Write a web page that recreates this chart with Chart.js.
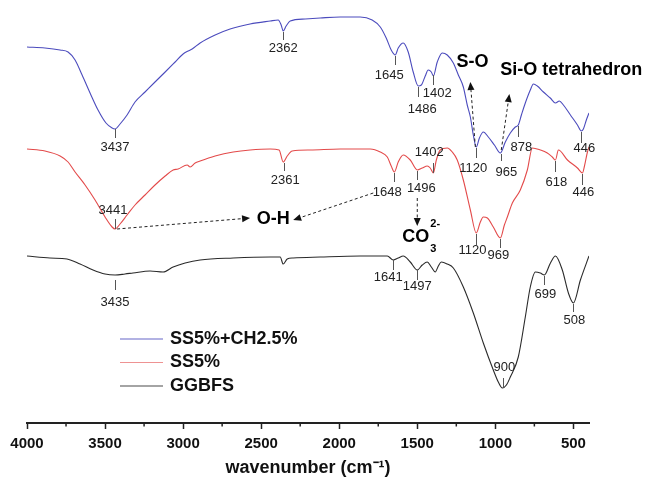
<!DOCTYPE html>
<html><head><meta charset="utf-8">
<script src="https://cdn.jsdelivr.net/npm/chart.js@4.4.1/dist/chart.umd.min.js"></script>
<style>html,body{margin:0;padding:0;background:#fff;}#wrap{width:645px;height:485px;}</style>
</head><body><div id="wrap"><canvas id="c" width="645" height="485"></canvas></div>
<script>
// ---- data (wavenumber in cm-1, transmittance in arbitrary units, curves offset) ----
const seriesNames = ['SS5%+CH2.5%', 'SS5%', 'GGBFS'];
const majorTicks = [4000, 3500, 3000, 2500, 2000, 1500, 1000, 500];
const minorTicks = [3750, 3250, 2750, 2250, 1750, 1250, 750];

const blueWn = [4000,3885,3788,3737,3692,3647,3596,3545,3494,3455,3436,3404,3359,3308,3244,3180,3115,3051,3000,2968,2942,2891,2795,2699,2571,2442,2391,2372,2359,2340,2314,2218,2122,1994,1866,1789,1737,1699,1667,1641,1622,1590,1558,1526,1494,1474,1449,1430,1410,1397,1372,1340,1308,1269,1237,1205,1180,1160,1141,1122,1102,1077,1045,1006,968,936,904,872,853,833,808,776,756,731,692,648,615,590,564,519,474,449,436,417,400];
const blueT  = [376,375,373,371,363,348,330,313,300,295,294,299,308,321,331,341,351,361,369,372,374,380,388,394,399,402,403,398,392,397,402,404,405,406,406,403,396,385,373,368,375,380,371,351,337,338,347,353,351,347,361,370,368,360,348,336,318,306,288,276,285,291,286,278,270,281,290,296,298,308,320,333,339,337,331,325,320,322,318,308,298,292,294,303,310];

const redWn = [4000,3885,3788,3737,3692,3628,3564,3500,3455,3436,3404,3359,3308,3244,3180,3115,3064,3032,2974,2955,2923,2891,2795,2679,2571,2442,2385,2359,2333,2301,2186,1994,1801,1737,1692,1667,1647,1622,1590,1545,1500,1468,1436,1417,1397,1378,1353,1308,1276,1244,1205,1160,1122,1096,1077,1051,1013,968,942,923,891,840,795,763,712,667,635,615,596,538,474,442,429,410,400];
const redT  = [274,272,267,261,251,238,223,206,196,194,199,208,218,228,238,247,253,254,258,256,260,262,267,271,273,274,273,261,267,272,273,274,274,271,266,257,251,261,268,263,253,255,257,255,250,263,273,275,271,263,243,213,190,201,206,205,196,185,198,206,220,233,253,275,273,270,266,263,273,263,255,250,257,271,276];

const blackWn = [4000,3853,3744,3660,3577,3500,3436,3372,3321,3212,3128,3064,2987,2891,2679,2442,2378,2359,2333,2295,2122,1866,1692,1654,1622,1590,1545,1500,1468,1436,1410,1385,1365,1346,1308,1269,1205,1141,1077,1013,981,955,929,904,853,808,776,744,712,686,647,615,571,532,500,455,400];
const blackT  = [167,165,164,159,153,149,148,149,150,152,151,156,160,163,165,166,166,159,164,165,166,167,167,163,165,167,161,153,158,161,156,151,157,161,159,155,136,110,80,53,41,35,38,46,66,106,136,151,150,148,160,167,153,130,120,143,167];

// peak annotations: [text, tick wavenumber, tick y from, tick y to, label wavenumber, label y]
const peakLabels = [
  ['3437',3436,294,285,3436,276], ['2362',2359,391,383,2359,375], ['1645',1640,367,358,1679,348],
  ['1486',1494,336,326,1468,314], ['1402',1397,348,338,1372,330], ['1120',1122,275,265,1141,255],
  ['965',962,269,262,929,251], ['878',853,297,286,833,276], ['446',449,291,280,430,275],
  ['3441',3436,194,204,3449,213], ['2361',2353,260,252,2346,243], ['1648',1647,250,241,1692,231],
  ['1496',1500,252,243,1474,235], ['1402',1397,250,260,1423,271], ['1120',1122,189,178,1147,173],
  ['969',968,184,175,981,168], ['618',615,262,251,609,241], ['446',442,249,238,436,231],
  ['3435',3436,143,133,3436,121], ['1641',1654,163,153,1686,146], ['1497',1500,153,143,1500,137],
  ['900',949,35,45,942,56], ['699',686,147,138,679,129], ['508',500,119,111,494,103]
];
// group labels: [text, wavenumber, y, align]
const groupLabels = [['S-O',1147,361,'center'], ['Si-O tetrahedron',968,353,'left'], ['O-H',2423,204,'center']];
const carbonate = {wn:1596, y:186};
// dashed arrows: [from wn, from y, to wn, to y]
const arrows = [[3423,194,2571,205],[1782,230,2295,203],[1500,225,1500,197],[1128,276,1160,341],[962,273,910,329]];

const FONT = '"Liberation Sans", Arial, Helvetica, sans-serif';
const colors = ['#4b4bbd', '#e34a4a', '#2a2a2a'];

const annot = {
  id: 'annot',
  afterDatasetsDraw(chart) {
    const ctx = chart.ctx, xs = chart.scales.x, ys = chart.scales.y, ca = chart.chartArea;
    const X = v => xs.getPixelForValue(v), Y = v => ys.getPixelForValue(v);
    ctx.save();
    // minor ticks
    ctx.strokeStyle = '#222'; ctx.lineWidth = 1.5;
    minorTicks.forEach(v => { ctx.beginPath(); ctx.moveTo(X(v), ca.bottom); ctx.lineTo(X(v), ca.bottom + 3.5); ctx.stroke(); });
    // peak ticks and labels
    ctx.font = '13px ' + FONT; ctx.textAlign = 'center'; ctx.textBaseline = 'middle';
    peakLabels.forEach(p => {
      ctx.strokeStyle = '#555'; ctx.lineWidth = 1;
      ctx.beginPath(); ctx.moveTo(Math.round(X(p[1])) + 0.5, Y(p[2])); ctx.lineTo(Math.round(X(p[1])) + 0.5, Y(p[3])); ctx.stroke();
      ctx.fillStyle = '#222'; ctx.fillText(p[0], X(p[4]), Y(p[5]));
    });
    // dashed arrows
    arrows.forEach(a => {
      const x1 = X(a[0]), y1 = Y(a[1]), x2 = X(a[2]), y2 = Y(a[3]);
      const ang = Math.atan2(y2 - y1, x2 - x1), L = 8, W = 3.5;
      const bx = x2 - L * Math.cos(ang), by = y2 - L * Math.sin(ang);
      ctx.strokeStyle = '#222'; ctx.lineWidth = 1; ctx.setLineDash([3, 2.5]);
      ctx.beginPath(); ctx.moveTo(x1, y1); ctx.lineTo(bx, by); ctx.stroke();
      ctx.setLineDash([]); ctx.fillStyle = '#111';
      ctx.beginPath(); ctx.moveTo(x2, y2);
      ctx.lineTo(bx + W * Math.sin(ang), by - W * Math.cos(ang));
      ctx.lineTo(bx - W * Math.sin(ang), by + W * Math.cos(ang));
      ctx.closePath(); ctx.fill();
    });
    // group labels
    ctx.font = 'bold 18px ' + FONT; ctx.fillStyle = '#000';
    groupLabels.forEach(g => { ctx.textAlign = g[3]; ctx.fillText(g[0], X(g[1]), Y(g[2])); });
    ctx.textAlign = 'left';
    const cx = X(carbonate.wn), cy = Y(carbonate.y);
    ctx.fillText('CO', cx, cy);
    const w = ctx.measureText('CO').width;
    ctx.font = 'bold 11px ' + FONT;
    ctx.fillText('2-', cx + w + 1, cy - 13);
    ctx.fillText('3', cx + w + 1, cy + 12);
    // legend
    const lx = ca.left + 93, ly = 339, dy = 23.5;
    chart.data.datasets.forEach((ds, i) => {
      const yy = ly + i * dy;
      ctx.strokeStyle = ds.borderColor; ctx.lineWidth = 1.2; ctx.globalAlpha = i === 1 ? 0.6 : 0.85;
      ctx.beginPath(); ctx.moveTo(lx, yy); ctx.lineTo(lx + 43, yy); ctx.stroke();
      ctx.globalAlpha = 1;
      ctx.font = 'bold 18px ' + FONT; ctx.fillStyle = '#111'; ctx.textBaseline = 'middle';
      ctx.fillText(ds.label, lx + 50, yy);
    });
    ctx.restore();
  }
};

const mk = (xs, ys) => xs.map((x, i) => ({x: x, y: ys[i]}));
new Chart(document.getElementById('c'), {
  type: 'line',
  data: { datasets: [
    {label: seriesNames[0], data: mk(blueWn, blueT), borderColor: colors[0]},
    {label: seriesNames[1], data: mk(redWn, redT), borderColor: colors[1]},
    {label: seriesNames[2], data: mk(blackWn, blackT), borderColor: colors[2]}
  ].map(d => Object.assign(d, {borderWidth: 1.1, pointRadius: 0, fill: false, cubicInterpolationMode: 'monotone'})) },
  options: {
    responsive: false, animation: false, devicePixelRatio: 1,
    layout: {padding: {left: 27, right: 56, top: 0, bottom: 0}},
    plugins: {legend: {display: false}, tooltip: {enabled: false}},
    scales: {
      x: {
        type: 'linear', reverse: true, min: 400, max: 4000,
        afterBuildTicks: s => { s.ticks = majorTicks.map(v => ({value: v})); },
        afterFit: s => { s.height = 62; },
        ticks: {callback: v => String(v), font: {family: FONT, size: 15, weight: 'bold'}, color: '#111', padding: 6, maxRotation: 0, autoSkip: false},
        grid: {drawOnChartArea: false, drawTicks: true, tickLength: 6, tickColor: '#222', tickWidth: 1.5},
        border: {display: true, color: '#222', width: 2},
        title: {display: true, text: 'wavenumber (cm\u207B\u00B9)', font: {family: FONT, size: 18, weight: 'bold'}, color: '#111', padding: {top: 2, bottom: 6}}
      },
      y: {display: false, min: 0, max: 423}
    }
  },
  plugins: [annot]
});
</script></body></html>
